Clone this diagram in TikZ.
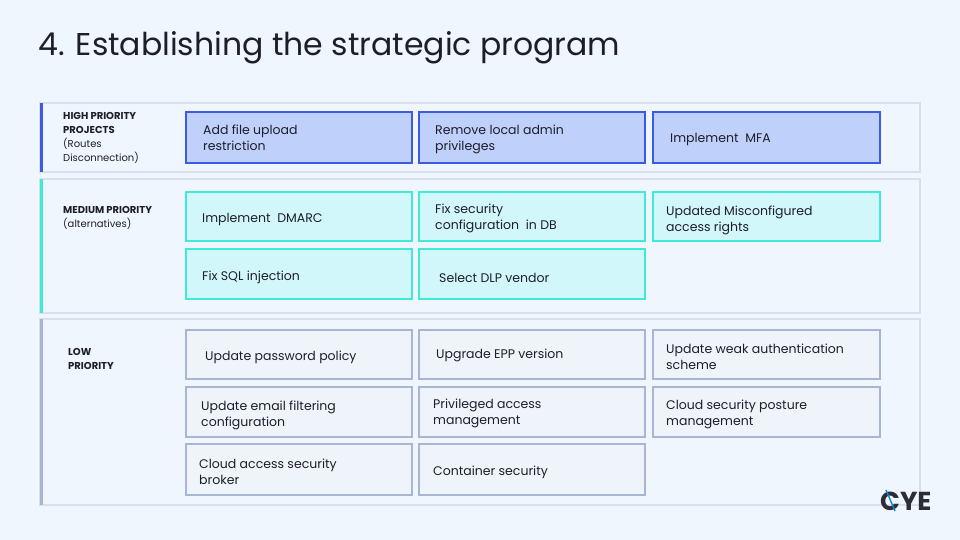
\documentclass[tikz,border=0pt]{standalone}
\usepackage{fontspec}
\setmainfont{Poppins}
\definecolor{bg}{HTML}{F0F6FD}
\definecolor{secline}{HTML}{D8E0EB}
\definecolor{hifill}{HTML}{BFD0FB}
\definecolor{hiline}{HTML}{3D5BE0}
\definecolor{mefill}{HTML}{D2F7FA}
\definecolor{meline}{HTML}{3EEBD8}
\definecolor{lofill}{HTML}{EFF3FA}
\definecolor{loline}{HTML}{A9B6D3}
\definecolor{txt}{HTML}{1E1E2A}
\begin{document}
\begin{tikzpicture}[x=1pt,y=-1pt,
  sec/.style={draw=secline,line width=1.5pt,fill=bg},
  hibox/.style={draw=hiline,fill=hifill,line width=2pt},
  mebox/.style={draw=meline,fill=mefill,line width=2pt},
  lobox/.style={draw=loline,fill=lofill,line width=2pt},
  lbl/.style={anchor=west,align=left,font=\fontsize{12.5}{16}\selectfont,text=txt,inner sep=0pt},
  head/.style={anchor=north west,align=left,font=\fontsize{10}{14}\selectfont,text=txt,inner sep=0pt}]
\fill[bg] (0,0) rectangle (960,540);
\useasboundingbox (0,0) rectangle (960,540);
\node[anchor=west,inner sep=0pt,font=\fontsize{31.5}{34}\selectfont,text=txt] (title) at (38,48) {4. Establishing the strategic program};
% sections
\draw[sec] (40,103) rectangle (920,172);
\fill[hiline] (40,103) rectangle (43,172);
\draw[sec] (40,179) rectangle (920,313);
\fill[meline] (40,179) rectangle (43,313);
\draw[sec] (40,319) rectangle (920,505);
\fill[loline] (40,319) rectangle (43,505);
\node[head] (h1) at (63,112) {\textbf{HIGH PRIORITY}\\\textbf{PROJECTS}\\(Routes\\Disconnection)};
\node[head] (h2) at (63,206) {\textbf{MEDIUM PRIORITY}\\(alternatives)};
\node[head] (h3) at (68,348) {\textbf{LOW}\\\textbf{PRIORITY}};
% high
\draw[hibox] (186,112) rectangle (412,163); \node[lbl] (a1) at (203,138) {Add file upload\\restriction};
\draw[hibox] (419,112) rectangle (645,163); \node[lbl] (a2) at (435,139) {Remove local admin\\privileges};
\draw[hibox] (653,112) rectangle (880,163); \node[lbl] (a3) at (670,140) {Implement\ \ MFA};
% medium
\draw[mebox] (186,192) rectangle (412,241); \node[lbl] (b1) at (202,219) {Implement\ \ DMARC};
\draw[mebox] (419,192) rectangle (645,241); \node[lbl] (b2) at (435,218) {Fix security\\configuration\ \ in DB};
\draw[mebox] (653,192) rectangle (880,241); \node[lbl] (b3) at (666,220) {Updated Misconfigured\\access rights};
\draw[mebox] (186,249) rectangle (412,299); \node[lbl] (b4) at (202,277) {Fix SQL injection};
\draw[mebox] (419,249) rectangle (645,299); \node[lbl] (b5) at (439,278) {Select DLP vendor};
% low
\draw[lobox] (186,330) rectangle (412,379); \node[lbl] (c1) at (205,357) {Update password policy};
\draw[lobox] (419,330) rectangle (645,379); \node[lbl] (c2) at (436,355) {Upgrade EPP version};
\draw[lobox] (653,330) rectangle (880,379); \node[lbl] (c3) at (666,357) {Update weak authentication\\scheme};
\draw[lobox] (186,387) rectangle (412,437); \node[lbl] (c4) at (201,415) {Update email filtering\\configuration};
\draw[lobox] (419,387) rectangle (645,437); \node[lbl] (c5) at (433,413) {Privileged access\\management};
\draw[lobox] (653,387) rectangle (880,437); \node[lbl] (c6) at (666,414) {Cloud security posture\\management};
\draw[lobox] (186,444) rectangle (412,495); \node[lbl] (c7) at (199,472) {Cloud access security\\broker};
\draw[lobox] (419,444) rectangle (645,495); \node[lbl] (c8) at (433,472) {Container security};
% logo
\node[anchor=west,inner sep=0pt,font=\fontsize{26}{26}\selectfont\bfseries,text=txt!85!gray] (logo) at (880,501) {CYE};
\draw[cyan!70!blue,line width=1.4pt] (886,490) -- (895,511);
\end{tikzpicture}
\end{document}
